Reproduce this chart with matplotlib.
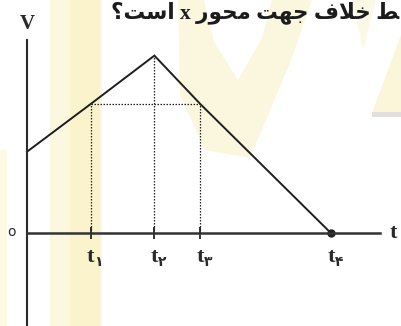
import matplotlib
matplotlib.use("Agg")
import matplotlib.pyplot as plt
from matplotlib.patches import Polygon

# velocity-time graph: v rises, peaks at t2, falls to zero at t4
times = [0.0, 1.0, 2.0, 2.72, 4.77]
speeds = [1.26, 2.0, 2.75, 2.0, 0.0]
tick_names = ["t", "t", "t", "t"]
tick_subs = ["\u06f1", "\u06f2", "\u06f3", "\u06f4"]   # Persian digits 1..4

# question line (Persian, shaped glyphs written in visual order since
# matplotlib has no bidi / arabic shaping of its own)
question = ("\u061f\ufe96\ufeb3\ufe8d x \ufead\ufeee\ufea4\ufee3 "
            "\ufe96\ufeec\ufe9f \ufed1\ufefc\ufea7 \ufec2")

W, H = 401, 326
fig = plt.figure(figsize=(W / 100, H / 100), dpi=100)
fig.patch.set_facecolor("white")

# faint logo watermark behind the graph (pixel coords)
bg = fig.add_axes([0, 0, 1, 1], zorder=0)
bg.set_xlim(0, W)
bg.set_ylim(H, 0)
bg.axis("off")
bg.fill_between([50, 102], 0, H, color="#fcf8e0", lw=0)
bg.fill_between([70, 100], 0, H, color="#fbf3cc", lw=0)
bg.fill_between([0, 7], 150, H, color="#fdf9e4", lw=0)
shapes = [
    ([(178, 0), (312, 0), (292, 58), (250, 158), (205, 150), (180, 95)], "#fbf6de"),
    ([(204, 0), (272, 0), (262, 38), (238, 80), (214, 42)], "white"),
    ([(352, 0), (376, 0), (363, 50)], "#fcf8e6"),
    ([(401, 35), (401, 113), (372, 113)], "#fbf5da"),
    ([(372, 112), (401, 112), (401, 117), (372, 117)], "#e2e0dc"),
]
for pts, col in shapes:
    bg.add_patch(Polygon(pts, closed=True, color=col, lw=0))

# graph axes, origin placed so the axes meet at (27, 233) px
ux, uy = 63.7, 64.5
ax = fig.add_axes([0, 0, 1, 1], zorder=1)
ax.patch.set_alpha(0)
ax.set_xlim(-27 / ux, (W - 27) / ux)
ax.set_ylim(-(H - 233) / uy, 233 / uy)

for side in ["top", "right"]:
    ax.spines[side].set_visible(False)
ax.spines["left"].set_position(("data", 0))
ax.spines["bottom"].set_position(("data", 0))
ax.spines["left"].set_bounds(ax.get_ylim()[0], 193 / uy)
ax.spines["bottom"].set_bounds(0, 353 / ux)
ax.spines["left"].set_color("#2b2b2b")
ax.spines["bottom"].set_color("#333333")
ax.spines["left"].set_linewidth(1.5)
ax.spines["bottom"].set_linewidth(1.8)

ax.set_xticks(times[1:4])
ax.set_xticklabels([])
ax.set_yticks([])
ax.tick_params(axis="x", direction="inout", length=8.5, width=1.4,
               color="#333333")

# dotted guides
ax.plot([times[1], times[3]], [speeds[1], speeds[3]], ls=(0, (1.2, 1.2)),
        color="#222222", lw=0.9)
for ti, vi in zip(times[1:4], speeds[1:4]):
    ax.plot([ti, ti], [0, vi], ls=(0, (1.2, 1.2)), color="#222222", lw=0.9)

ax.plot(times, speeds, color="#1e1e1e", lw=1.4, solid_joinstyle="miter")
ax.plot(times[-1], speeds[-1], "o", color="#222222", ms=5)

serif = ["Liberation Serif", "DejaVu Sans"]
for ti, name, sub in zip(times[1:], tick_names, tick_subs):
    ax.text(ti, -24 / uy, name, ha="center", va="center", fontsize=16,
            fontweight="bold", family="Liberation Serif", color="#2a2a2a")
    ax.text(ti + 8 / ux, -29 / uy, sub, ha="center", va="center", fontsize=10,
            fontweight="bold", family="DejaVu Sans", color="#2a2a2a")

ax.text(0, 209 / uy, "V", ha="center", va="center", fontsize=15,
        fontweight="bold", family="Liberation Serif", color="#2a2a2a")
ax.text(366 / ux, 0, "t", ha="center", va="center", fontsize=16,
        fontweight="bold", family="Liberation Serif", color="#2a2a2a")
ax.text(-16 / ux, 1.5 / uy, "o", ha="center", va="center", fontsize=10,
        family="DejaVu Sans", color="#2a2a2a")

fig.text(399 / W, 1 - 13 / H, question, ha="right", va="center", fontsize=15.5,
         fontweight="bold", family=serif, color="#1c1c1c")

fig.savefig("out.png", dpi=100)
